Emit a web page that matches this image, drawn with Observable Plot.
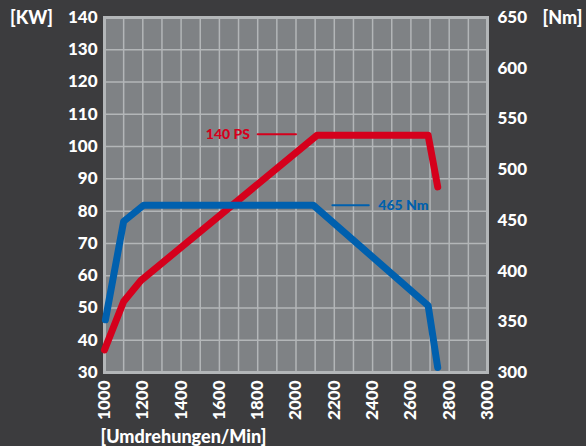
<!DOCTYPE html>
<html>
<head>
<meta charset="utf-8">
<script src="https://cdn.jsdelivr.net/npm/d3@7"></script>
<script src="https://cdn.jsdelivr.net/npm/@observablehq/plot@0.6"></script>
<style>
  html, body { margin: 0; padding: 0; background: #3c3c3e; }
  #chart { width: 586px; height: 446px; }
</style>
</head>
<body>
<div id="chart"></div>
<script>
// Power curve (red, left axis KW)
const rpmPower = [1000, 1100, 1190, 2110, 2690, 2740];
const kwPower  = [37, 52, 58.5, 103.5, 103.5, 87.5];
// Torque curve (blue, right axis Nm)
const rpmTorque = [1005, 1100, 1205, 2090, 2690, 2740];
const nmTorque  = [352, 449, 465, 465, 366, 305];

// Ticks
const rpmTicks = [1000, 1200, 1400, 1600, 1800, 2000, 2200, 2400, 2600, 2800, 3000];
const rpmGrid  = [1000, 1100, 1200, 1300, 1400, 1500, 1600, 1700, 1800, 1900, 2000, 2100, 2200, 2300, 2400, 2500, 2600, 2700, 2800, 2900, 3000];
const kwTicks  = [30, 40, 50, 60, 70, 80, 90, 100, 110, 120, 130, 140];
const nmTicks  = [300, 350, 400, 450, 500, 550, 600, 650];

// Annotations
const powerLabel = ["140 PS"];
const powerLabelRpm = [1760];
const powerLabelKw = [103.8];
const powerLeaderRpm = [1800, 2000];
const torqueLabel = ["465 Nm"];
const torqueLabelRpm = [2430];
const torqueLabelNm = [465];
const torqueLeaderRpm = [2190, 2380];

const toKW = nm => 30 + (nm - 300) * 110 / 350;

const red = "#d5001c";
const blue = "#0060ae";
const gridColor = "#b3b6b8";

const power = rpmPower.map((r, i) => ({rpm: r, v: kwPower[i]}));
const torque = rpmTorque.map((r, i) => ({rpm: r, v: toKW(nmTorque[i])}));
const powerLeader = powerLeaderRpm.map(r => ({rpm: r, v: powerLabelKw[0]}));
const torqueLeader = torqueLeaderRpm.map(r => ({rpm: r, v: toKW(torqueLabelNm[0])}));

const chart = Plot.plot({
  width: 586,
  height: 446,
  marginLeft: 104,
  marginRight: 99,
  marginTop: 17,
  marginBottom: 74,
  style: {background: "#3c3c3e", color: "white", fontFamily: "Lato, sans-serif", fontWeight: "900", fontSize: "17px"},
  x: {domain: [1000, 3000]},
  y: {domain: [30, 140]},
  marks: [
    Plot.frame({fill: "#7f8285"}),
    Plot.ruleX(rpmGrid, {stroke: gridColor, strokeWidth: 1.5}),
    Plot.ruleY(kwTicks, {stroke: gridColor, strokeWidth: 1.5}),
    Plot.frame({stroke: gridColor, strokeWidth: 3}),
    Plot.line(power, {x: "rpm", y: "v", stroke: red, strokeWidth: 7, strokeLinecap: "round", strokeLinejoin: "round"}),
    Plot.line(torque, {x: "rpm", y: "v", stroke: blue, strokeWidth: 7, strokeLinecap: "round", strokeLinejoin: "round"}),
    Plot.line(powerLeader, {x: "rpm", y: "v", stroke: red, strokeWidth: 2}),
    Plot.line(torqueLeader, {x: "rpm", y: "v", stroke: blue, strokeWidth: 2}),
    Plot.text(powerLabel, {x: powerLabelRpm, y: powerLabelKw, text: d => d, fill: red, textAnchor: "end", fontSize: 14, fontWeight: "900"}),
    Plot.text(torqueLabel, {x: torqueLabelRpm, y: torqueLabelNm.map(toKW), text: d => d, fill: blue, textAnchor: "start", fontSize: 14, fontWeight: "900"}),
    Plot.axisX({ticks: rpmTicks, tickRotate: -90, tickSize: 0, tickPadding: 8, label: null, tickFormat: d => String(d), fill: "white"}),
    Plot.axisY({ticks: kwTicks, anchor: "left", tickSize: 0, tickPadding: 7, label: null, fill: "white"}),
    Plot.axisY({ticks: nmTicks.map(toKW), anchor: "right", tickSize: 0, tickPadding: 10, label: null, fill: "white",
      tickFormat: d => String(Math.round(300 + (d - 30) * 350 / 110))}),
    Plot.text(["[KW]"], {frameAnchor: "top-left", dx: -73, dy: 1, textAnchor: "middle", lineAnchor: "middle", text: d => d, fill: "white", fontSize: 18}),
    Plot.text(["[Nm]"], {frameAnchor: "top-right", dx: 75, dy: 1, textAnchor: "middle", lineAnchor: "middle", text: d => d, fill: "white", fontSize: 18}),
    Plot.text(["[Umdrehungen/Min]"], {frameAnchor: "bottom-left", dx: -4, dy: 65, textAnchor: "start", lineAnchor: "middle", text: d => d, fill: "white", fontSize: 18})
  ]
});
document.getElementById("chart").append(chart);
</script>
</body>
</html>
